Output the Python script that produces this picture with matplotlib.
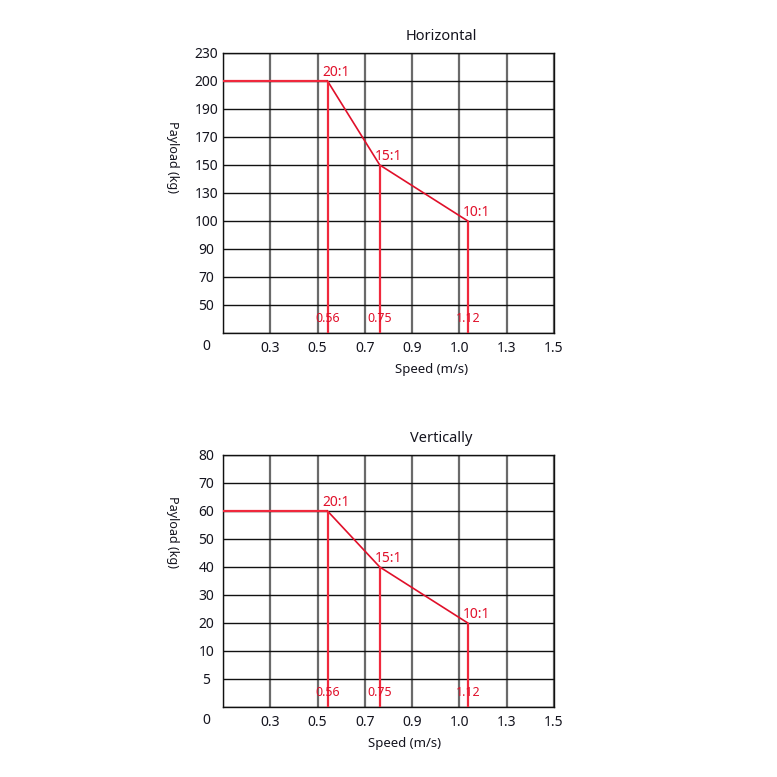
import numpy as np
import matplotlib
matplotlib.use("Agg")
from matplotlib import pyplot as plt

plt.rcParams['font.family'] = ['Noto Sans', 'DejaVu Sans']

# x axis: uneven speed ticks drawn at equal spacing
speed_ticks = [0, 0.3, 0.5, 0.7, 0.9, 1.0, 1.3, 1.5]
break_speed = [0.542, 0.763, 1.053]
break_labels = ['0.56', '0.75', '1.12']
ratio_labels = ['20:1', '15:1', '10:1']

# horizontal panel
h_ticks = [0, 50, 70, 90, 100, 130, 150, 170, 190, 200, 230]
h_payload = [200, 150, 100]

# vertical panel
v_ticks = [0, 5, 10, 20, 30, 40, 50, 60, 70, 80]
v_payload = [60, 40, 20]

RED = '#f0283c'
RED_DARK = '#e0102a'
TXT = '#14141e'


def even_scale(ticks):
    idx = np.arange(len(ticks), dtype=float)
    fwd = lambda v: np.interp(v, ticks, idx)
    inv = lambda p: np.interp(p, idx, ticks)
    return fwd, inv


def draw_panel(ax, yticks, payload, title, title_x, xlabel_x, ylabel_y):
    ax.set_xscale('function', functions=even_scale(speed_ticks))
    ax.set_yscale('function', functions=even_scale(yticks))
    ax.set_xlim(speed_ticks[0], speed_ticks[-1])
    ax.set_ylim(yticks[0], yticks[-1])
    ax.set_xticks(speed_ticks)
    ax.set_xticklabels([''] + [f'{t:.1f}' for t in speed_ticks[1:]])
    ax.set_yticks(yticks)
    ax.set_yticklabels([''] + [str(t) for t in yticks[1:]])
    ax.tick_params(axis='both', length=0, labelsize=10, labelcolor=TXT)
    ax.tick_params(axis='x', pad=6)
    ax.tick_params(axis='y', pad=12)
    for lab in ax.get_yticklabels():
        lab.set_horizontalalignment('center')
    ax.xaxis.grid(True, color='#6a6a6a', lw=1.6)
    ax.yaxis.grid(True, color='#111111', lw=1.0)
    ax.set_axisbelow(True)
    for sp in ax.spines.values():
        sp.set_color('#111111')
        sp.set_linewidth(1.0)

    # corner zero
    ax.annotate('0', xy=(0, 0), xycoords='axes fraction', xytext=(-17, -13),
                textcoords='offset pixels', ha='center', va='center',
                fontsize=10, color=TXT)

    # payload curve
    ax.plot([0, break_speed[0]], [payload[0], payload[0]], color=RED, lw=1.6,
            solid_capstyle='butt', zorder=3)
    ax.plot(break_speed, payload, color=RED_DARK, lw=1.2, zorder=3)
    for s, p, sl, rl in zip(break_speed, payload, break_labels, ratio_labels):
        ax.plot([s, s], [yticks[0], p], color=RED, lw=1.6,
                solid_capstyle='butt', zorder=3)
        ax.annotate(sl, xy=(s, yticks[0]), xytext=(0, 15),
                    textcoords='offset pixels', ha='center', va='center',
                    fontsize=9, color=RED_DARK, zorder=4)
        ax.annotate(rl, xy=(s, p), xytext=(-5, 1), textcoords='offset pixels',
                    ha='left', va='bottom', fontsize=10, color=RED_DARK,
                    zorder=4)

    ax.set_title(title, x=title_x, pad=9.5, fontsize=10.5, color=TXT)
    ax.set_xlabel('Speed (m/s)', fontsize=9.5, color=TXT, labelpad=5)
    ax.xaxis.label.set_x(xlabel_x)
    ax.text(-51 / 331, ylabel_y, 'Payload (kg)', transform=ax.transAxes,
            rotation=270, ha='center', va='center', fontsize=9, color=TXT)


fig = plt.figure(figsize=(7.77, 7.77), dpi=100)
ax1 = fig.add_axes([223 / 777, 1 - 333 / 777, 331 / 777, 280 / 777])
ax2 = fig.add_axes([223 / 777, 1 - 707 / 777, 331 / 777, 252 / 777])

draw_panel(ax1, h_ticks, h_payload, 'Horizontal', 0.659, 0.631, 0.629)
draw_panel(ax2, v_ticks, v_payload, 'Vertically', 0.659, 0.55, 0.694)

fig.savefig('out.png', dpi=100)
